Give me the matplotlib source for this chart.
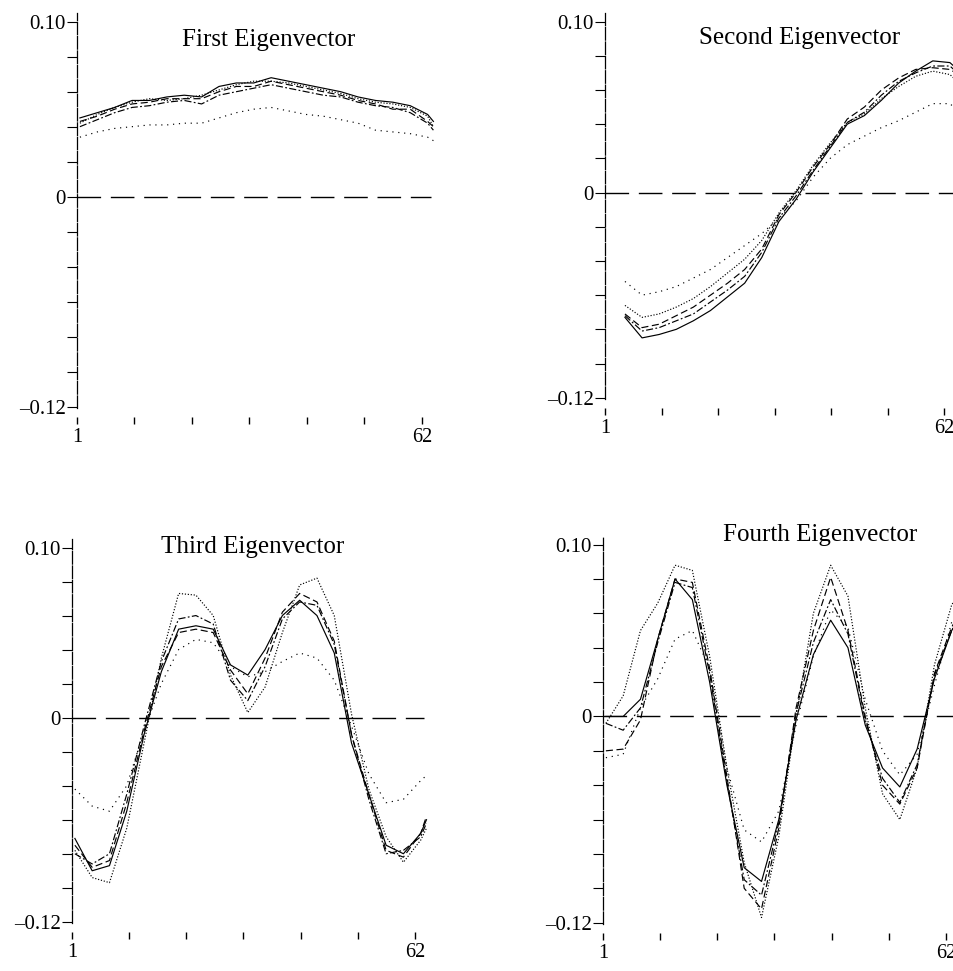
import numpy as np
import matplotlib
matplotlib.use('Agg')
import matplotlib.pyplot as plt

plt.rcParams['font.family'] = ['Liberation Serif', 'DejaVu Serif']

nan = np.nan

# sample positions along the 62 components
idx = [1, 4, 7, 10, 13, 16, 19, 22, 25, 28, 31, 34, 37, 40, 43, 46, 49, 52, 55, 58, 61, 62]

# first eigenvector
first_solid = [0.045, 0.048, 0.051, 0.055, 0.055, 0.057, 0.058, 0.057, 0.063, 0.065, 0.065, 0.068, 0.066, 0.064, 0.062, 0.060, 0.057, 0.055, 0.054, 0.052, 0.047, 0.043]
first_dash = [0.043, 0.046, 0.050, 0.053, 0.054, 0.056, 0.056, 0.056, 0.060, 0.063, 0.063, 0.066, 0.064, 0.062, 0.060, 0.058, 0.055, 0.053, 0.050, 0.050, 0.043, 0.040]
first_dashdot = [0.040, 0.044, 0.048, 0.051, 0.052, 0.054, 0.055, 0.053, 0.058, 0.060, 0.062, 0.064, 0.062, 0.060, 0.058, 0.057, 0.054, 0.052, 0.051, 0.048, 0.042, 0.038]
first_dot = [0.042, 0.047, 0.051, 0.054, 0.056, 0.055, 0.056, 0.058, 0.061, 0.064, 0.066, 0.066, 0.065, 0.063, 0.061, 0.059, 0.056, 0.054, 0.053, 0.051, 0.046, 0.040]
first_sparse = [0.034, 0.037, 0.039, 0.040, 0.041, 0.041, 0.042, 0.042, 0.045, 0.048, 0.050, 0.051, 0.049, 0.047, 0.046, 0.044, 0.042, 0.038, 0.037, 0.036, 0.034, 0.032]

# second eigenvector
second_solid = [nan, -0.073, -0.085, -0.083, -0.080, -0.075, -0.069, -0.061, -0.053, -0.038, -0.017, -0.004, 0.012, 0.026, 0.040, 0.045, 0.054, 0.064, 0.071, 0.077, 0.076, 0.073]
second_dash = [nan, -0.071, -0.079, -0.077, -0.072, -0.067, -0.060, -0.053, -0.045, -0.033, -0.013, 0.000, 0.015, 0.028, 0.043, 0.050, 0.060, 0.067, 0.072, 0.073, 0.072, 0.070]
second_dashdot = [nan, -0.072, -0.081, -0.079, -0.075, -0.071, -0.064, -0.057, -0.049, -0.035, -0.015, -0.002, 0.013, 0.027, 0.041, 0.047, 0.057, 0.065, 0.070, 0.074, 0.074, 0.071]
second_dot = [nan, -0.066, -0.073, -0.071, -0.067, -0.062, -0.055, -0.047, -0.039, -0.028, -0.012, 0.001, 0.016, 0.029, 0.041, 0.046, 0.055, 0.062, 0.068, 0.071, 0.069, 0.066]
second_sparse = [nan, -0.052, -0.060, -0.058, -0.055, -0.050, -0.045, -0.038, -0.031, -0.024, -0.015, -0.005, 0.009, 0.020, 0.028, 0.033, 0.038, 0.042, 0.047, 0.052, 0.052, 0.049]

# third eigenvector
third_solid = [-0.071, -0.090, -0.087, -0.055, -0.010, 0.027, 0.052, 0.054, 0.052, 0.031, 0.025, 0.040, 0.060, 0.069, 0.060, 0.038, -0.015, -0.045, -0.075, -0.080, -0.068, -0.060]
third_dash = [-0.075, -0.088, -0.084, -0.050, -0.008, 0.030, 0.050, 0.052, 0.050, 0.028, 0.014, 0.035, 0.062, 0.073, 0.068, 0.045, -0.010, -0.045, -0.078, -0.082, -0.068, -0.058]
third_dashdot = [-0.080, -0.086, -0.080, -0.045, -0.005, 0.033, 0.058, 0.060, 0.055, 0.022, 0.010, 0.030, 0.058, 0.068, 0.066, 0.043, -0.010, -0.048, -0.080, -0.078, -0.070, -0.062]
third_dot = [-0.078, -0.094, -0.097, -0.065, -0.015, 0.035, 0.073, 0.072, 0.060, 0.025, 0.003, 0.018, 0.050, 0.078, 0.082, 0.060, 0.002, -0.042, -0.070, -0.085, -0.072, -0.065]
third_sparse = [-0.042, -0.052, -0.055, -0.040, -0.008, 0.020, 0.040, 0.046, 0.044, 0.030, 0.024, 0.027, 0.033, 0.038, 0.035, 0.022, -0.005, -0.033, -0.050, -0.048, -0.037, -0.034]

# fourth eigenvector
fourth_solid = [0.000, 0.000, 0.010, 0.045, 0.080, 0.068, 0.020, -0.040, -0.088, -0.096, -0.060, -0.002, 0.036, 0.056, 0.040, -0.005, -0.030, -0.041, -0.019, 0.022, 0.050, 0.055]
fourth_dash = [-0.020, -0.019, -0.002, 0.045, 0.080, 0.078, 0.028, -0.035, -0.100, -0.112, -0.065, 0.005, 0.050, 0.081, 0.050, 0.000, -0.040, -0.051, -0.030, 0.025, 0.052, 0.058]
fourth_dashdot = [-0.004, -0.008, 0.005, 0.043, 0.078, 0.075, 0.025, -0.038, -0.095, -0.104, -0.062, 0.002, 0.043, 0.068, 0.048, -0.002, -0.036, -0.050, -0.028, 0.024, 0.050, 0.056]
fourth_dot = [-0.004, 0.012, 0.050, 0.066, 0.088, 0.085, 0.035, -0.030, -0.085, -0.117, -0.070, 0.000, 0.060, 0.088, 0.070, 0.005, -0.045, -0.060, -0.030, 0.030, 0.065, 0.070]
fourth_sparse = [-0.024, -0.022, 0.005, 0.022, 0.045, 0.050, 0.028, -0.030, -0.066, -0.073, -0.055, -0.005, 0.035, 0.062, 0.052, 0.010, -0.020, -0.034, -0.022, 0.018, 0.055, 0.061]

titles = ['First Eigenvector', 'Second Eigenvector', 'Third Eigenvector', 'Fourth Eigenvector']
yticks = [-0.12, -0.10, -0.08, -0.06, -0.04, -0.02, 0.0, 0.02, 0.04, 0.06, 0.08, 0.10]
ylabels = ['\u20130.12', '', '', '', '', '', '0', '', '', '', '', '0.10']
xticks = list(np.linspace(0.5, 60, 7))
xlabels = ['1', '', '', '', '', '', '62']

W, H = 954, 971
fig = plt.figure(figsize=(W / 100, H / 100), dpi=100)

# left, top, width, bottom in pixels ; title centre in pixels
boxes = [(77, 13, 368, 417), (605, 13, 362, 408), (72, 539, 366, 932), (603, 536, 366, 933)]
title_pos = [(269, 40), (800, 38), (253, 547), (820, 535)]

series = [
    [first_solid, first_dash, first_dashdot, first_dot, first_sparse],
    [second_solid, second_dash, second_dashdot, second_dot, second_sparse],
    [third_solid, third_dash, third_dashdot, third_dot, third_sparse],
    [fourth_solid, fourth_dash, fourth_dashdot, fourth_dot, fourth_sparse],
]
styles = ['-', (0, (6, 3)), (0, (6, 2, 1.5, 2)), (0, (1, 1.5)), (0, (1, 4))]

for k in range(4):
    l, t, w, b = boxes[k]
    ax = fig.add_axes([l / W, 1 - b / H, w / W, (b - t) / H])
    for vals, ls in zip(series[k], styles):
        ax.plot(idx, vals, color='black', lw=0.85, linestyle=ls)
    ax.plot([0.5, 61.5], [0, 0], color='black', lw=1.0, dashes=(17, 7))
    ax.set_xlim(0.5, 64)
    ax.set_ylim(-0.126, 0.105)
    for s in ['top', 'right', 'bottom']:
        ax.spines[s].set_visible(False)
    ax.spines['left'].set_linestyle((0, (10, 1.5)))
    ax.spines['left'].set_linewidth(0.9)
    ax.spines['left'].set_bounds(-0.121, 0.105)
    ax.set_yticks(yticks)
    ax.set_yticklabels(ylabels)
    ax.set_xticks(xticks)
    ax.set_xticklabels(xlabels)
    ax.tick_params(axis='y', direction='out', length=7, width=0.8, pad=1, labelsize=15)
    ax.tick_params(axis='x', direction='out', length=5, width=1.0, pad=3, labelsize=14.5)
    ax.patch.set_visible(False)
    tx, ty = title_pos[k]
    fig.text(tx / W, 1 - ty / H, titles[k], ha='center', va='center', fontsize=18)

fig.savefig('out.png', dpi=100)
